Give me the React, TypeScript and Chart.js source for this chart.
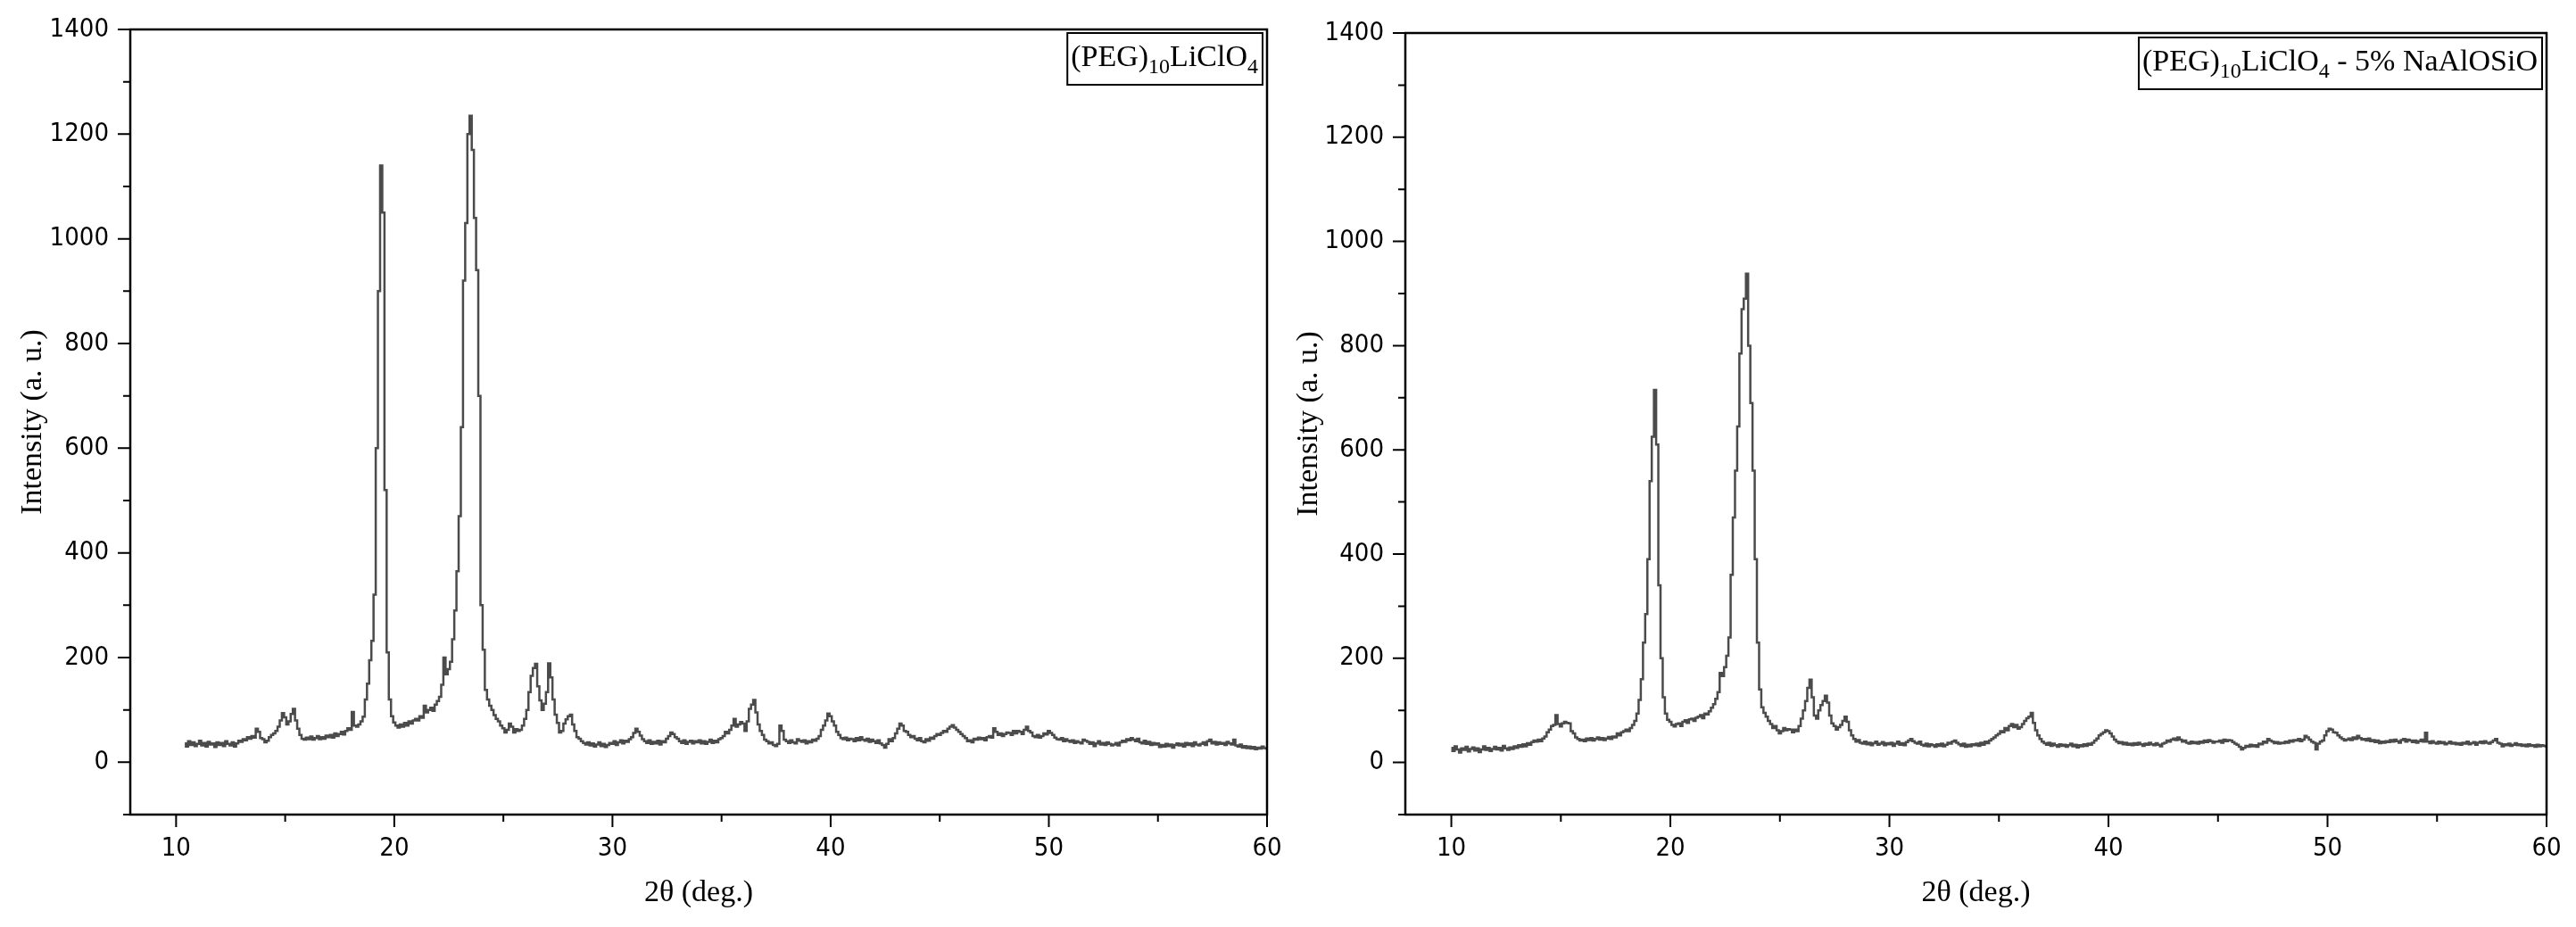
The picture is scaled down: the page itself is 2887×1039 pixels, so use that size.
import { useEffect, useRef } from "react";
import { Chart, registerables } from "chart.js";

Chart.register(...registerables);

// axes
const X_MIN = 7.9;
const X_MAX = 60;
const Y_MIN = -100;
const Y_MAX = 1400;
const X_TICKS = [10, 15, 20, 25, 30, 35, 40, 45, 50, 55, 60];
const X_LABELS = [10, 20, 30, 40, 50, 60];
const Y_TICKS = [-100, 0, 100, 200, 300, 400, 500, 600, 700, 800, 900, 1000, 1100, 1200, 1300, 1400];
const Y_LABELS = [0, 200, 400, 600, 800, 1000, 1200, 1400];

// scan grid (2θ, deg.)
const SCAN_STEP = 0.1;
const LEFT_START = 10.4;
const RIGHT_START = 10.0;

// (PEG)10LiClO4, one row per degree
const LEFT_INTENSITY = [
  36, 30, 40, 33, 38, 31,
  35, 41, 32, 37, 30, 39, 34, 36, 29, 38,
  33, 37, 31, 40, 35, 32, 38, 30, 36, 41,
  39, 44, 42, 48, 45, 50, 47, 64, 58, 46,
  44, 38, 41, 48, 52, 55, 60, 68, 80, 94,
  86, 72, 78, 92, 102, 80, 64, 52, 45, 43,
  47, 44, 49, 43, 46, 50, 44, 48, 45, 51,
  48, 52, 47, 55, 50, 54, 58, 53, 60, 65,
  62, 96, 70, 68, 72, 78, 87, 120, 150, 195,
  232, 320, 600, 900, 1140, 1050, 520, 210, 120, 88,
  76, 70, 66, 72, 68, 75, 70, 78, 74, 80,
  83, 80, 88, 85, 108, 95, 100, 104, 98, 110,
  117, 125, 148, 200, 168, 178, 192, 235, 290, 365,
  470, 640, 920, 1030, 1200, 1235, 1170, 1040, 940, 700,
  300, 215, 138, 120, 108, 100, 90, 83, 78, 70,
  65, 57, 62, 74, 68, 57, 63, 60, 62, 70,
  83, 100, 134, 165, 180, 188, 145, 118, 100, 112,
  134, 189, 162, 120, 91, 75, 57, 60, 74, 82,
  88, 91, 72, 60, 48, 45, 40, 37, 34, 38,
  32, 36, 30, 34, 38, 31, 35, 29, 33, 37,
  35, 40, 33, 38, 42, 36, 41, 39, 44, 48,
  56, 64, 58, 51, 44, 40, 37, 42, 35, 39,
  36, 41, 34, 40, 38, 45, 50, 57, 54, 48,
  45, 40, 37, 42, 35, 39, 41, 36, 40, 38,
  42, 36, 40, 35, 39, 43, 37, 41, 38, 44,
  46, 50, 58, 55, 62, 70, 83, 68, 72, 77,
  74, 60, 78, 102, 110, 119, 95, 72, 60, 52,
  43, 40, 36, 38, 33, 31, 35, 70, 60, 43,
  40, 37, 42, 38, 36, 44, 41, 39, 42, 36,
  40, 38, 43, 41, 45, 50, 62, 70, 80, 93,
  88, 78, 70, 58, 52, 46, 44, 47, 42, 45,
  44, 40, 46, 42, 48, 43, 41, 45, 39, 43,
  40, 37, 42, 36, 33, 28, 35, 44, 40, 46,
  55, 64, 74, 70, 60, 58, 52, 48, 50, 45,
  42, 46, 40, 38, 44, 41, 47, 45, 50, 54,
  52, 56, 60, 58, 64, 68, 71, 66, 62, 58,
  54, 50, 46, 40, 42, 38, 45, 43, 47, 44,
  46, 42, 48, 50, 47, 65, 58, 52, 55, 50,
  54, 57, 56, 52, 60, 55, 60, 58, 54, 62,
  68, 60, 57, 50, 48, 52, 47, 50, 55, 53,
  60, 56, 52, 47, 44, 43, 46, 40, 44, 41,
  39, 42, 37, 40, 38, 36, 43, 41, 39, 35,
  38, 31, 36, 40, 34, 37, 33, 38, 35, 32,
  34, 37, 32, 38, 41, 39, 44, 42, 46, 43,
  40, 45, 38, 36, 41, 35, 39, 33, 37, 34,
  36, 29, 33, 30, 35, 31, 34, 28, 33, 36,
  32, 35, 30, 37, 33, 36, 31, 38, 34, 32,
  35, 38, 33, 40, 43, 36, 39, 34, 38, 35,
  37, 33, 39, 36, 34, 43, 32, 30, 34, 28,
  31, 27, 30, 26, 29, 25, 28, 26, 30, 27,
  26,
];

// (PEG)10LiClO4 - 5% NaAlOSiO, one row per degree
const RIGHT_INTENSITY = [
  28, 22, 31, 25, 19, 27, 24, 30, 21, 26,
  29, 23, 27, 20, 25, 31, 24, 28, 22, 26,
  30, 25, 28, 23, 32, 27, 24, 29, 26, 31,
  28, 33, 30, 35, 31, 37, 34, 39, 42, 40,
  44, 41, 46, 50, 58, 63, 70, 72, 91, 74,
  69, 75, 78, 76, 75, 60, 56, 48, 45, 42,
  44, 41, 46, 43, 47, 42, 45, 48, 44, 47,
  43, 46, 49, 45, 50, 48, 56, 52, 58, 60,
  63, 60, 66, 72, 80, 94, 120, 160, 230, 285,
  390, 540, 625, 715, 610, 340, 200, 125, 94, 82,
  78, 72, 69, 74, 75, 70, 78, 81, 76, 83,
  84, 80, 86, 88, 91, 85, 94, 92, 98, 105,
  112, 122, 135, 172, 166, 183, 205, 240, 360, 470,
  560, 645, 785, 870, 890, 938, 800, 690, 560, 390,
  230, 140, 106, 95, 88, 80, 74, 66, 70, 62,
  56, 60, 66, 62, 64, 63, 58, 63, 60, 70,
  84, 100, 118, 143, 159, 125, 90, 84, 100, 110,
  118, 128, 115, 90, 75, 70, 63, 68, 72, 80,
  88, 78, 62, 52, 45, 40, 43, 38, 36, 40,
  35, 38, 33, 37, 40, 34, 36, 39, 33, 37,
  35, 38, 32, 36, 40, 34, 37, 33, 39, 42,
  45, 41, 38, 36, 40, 34, 32, 36, 31, 35,
  33, 30, 35, 32, 36, 31, 34, 38, 36, 40,
  42, 38, 35, 32, 36, 30, 34, 31, 35, 33,
  36, 32, 38, 34, 40, 37, 42, 45, 48, 52,
  55, 60, 58, 66, 62, 70, 74, 68, 72, 65,
  68, 74, 80, 85, 88, 95, 76, 62, 52, 45,
  40, 37, 34, 38, 32, 36, 33, 30, 35, 32,
  34, 30, 33, 36, 31, 34, 29, 33, 31, 35,
  32, 36, 34, 38, 42, 46, 52, 55, 58, 62,
  60, 56, 50, 44, 40, 37, 39, 35, 38, 34,
  36, 33, 37, 34, 38, 35, 32, 36, 34, 38,
  35, 33, 37, 34, 31, 36, 38, 42, 40, 44,
  46, 43, 48, 44, 40, 42, 38, 36, 40, 37,
  39, 36, 40, 38, 42, 39, 43, 41, 38, 40,
  40, 42, 38, 44, 41, 43, 42, 39, 36, 34,
  30, 25, 28, 32, 30, 34, 31, 33, 30, 36,
  35, 40, 38, 45, 42, 40, 37, 39, 36, 38,
  37, 40, 38, 42, 40, 43, 42, 45, 41, 44,
  51, 48, 44, 40, 38, 25, 36, 40, 42, 52,
  60, 65, 63, 58, 57, 52, 48, 45, 42, 44,
  46, 43, 48, 45, 51, 47, 44, 45, 42, 46,
  41, 43, 39, 42, 37, 40, 38, 41, 39, 43,
  40, 44, 41, 38, 43, 45, 40, 44, 42, 39,
  42, 38, 41, 44, 40, 57, 40, 37, 41, 38,
  36, 40, 37, 39, 35, 37, 40, 36, 38, 35,
  37, 34, 38, 36, 40, 35, 37, 39, 34, 38,
  40, 37, 41, 38, 36, 39, 42, 45, 38, 36,
  31, 35, 33, 36, 32, 34, 37, 33, 35, 32,
  34, 31, 35, 32, 33, 30, 34, 31, 33, 32,
  31,
];

// [text, subscript]
type Part = [string, boolean];
const LEFT_LABEL: Part[] = [["(PEG)", false], ["10", true], ["LiClO", false], ["4", true]];
const RIGHT_LABEL: Part[] = [...LEFT_LABEL, [" - 5% NaAlOSiO", false]];

const TICK_FONT = { family: "'Liberation Sans Narrow', 'DejaVu Sans Condensed', 'Arial Narrow', sans-serif", size: 29 };
const TITLE_FONT = { family: "'Liberation Serif', 'Times New Roman', serif", size: 34 };
const SERIF = "'Liberation Serif', 'Times New Roman', serif";
const LINE_COLOR = "#4b4b4b";
const MAJOR = 14;
const MINOR = 8;

interface PanelProps {
  left: number;
  width: number;
  yAxisWidth: number;
  padTop: number;
  padRight: number;
  yTitlePad: number;
  start: number;
  intensity: number[];
  label: Part[];
  boxOffset: number;
}

function Panel({ left, width, yAxisWidth, padTop, padRight, yTitlePad, start, intensity, label, boxOffset }: PanelProps) {
  const canvasRef = useRef<HTMLCanvasElement>(null);

  useEffect(() => {
    if (!canvasRef.current) return;

    const points = intensity.map((y, i) => ({ x: Math.round((start + i * SCAN_STEP) * 10) / 10, y }));

    const framePlugin = {
      id: "frame",
      afterDraw(chart: any) {
        const { ctx, chartArea: a, scales } = chart;
        ctx.save();
        ctx.strokeStyle = "#000";
        ctx.lineWidth = 2.5;
        ctx.strokeRect(a.left, a.top, a.right - a.left, a.bottom - a.top);
        ctx.lineWidth = 2;
        ctx.beginPath();
        X_TICKS.forEach((v) => {
          const px = scales.x.getPixelForValue(v);
          ctx.moveTo(px, a.bottom);
          ctx.lineTo(px, a.bottom + (X_LABELS.includes(v) ? MAJOR : MINOR));
        });
        Y_TICKS.forEach((v) => {
          const py = scales.y.getPixelForValue(v);
          ctx.moveTo(a.left, py);
          ctx.lineTo(a.left - (Y_LABELS.includes(v) ? MAJOR : MINOR), py);
        });
        ctx.stroke();

        // sample name box, top right
        const big = `34px ${SERIF}`;
        const small = `24px ${SERIF}`;
        let w = 0;
        label.forEach(([t, sub]) => {
          ctx.font = sub ? small : big;
          w += ctx.measureText(t).width;
        });
        const boxR = a.right - 5;
        const boxT = a.top + boxOffset;
        const boxW = w + 9;
        ctx.fillStyle = "#fff";
        ctx.fillRect(boxR - boxW, boxT, boxW, 58);
        ctx.lineWidth = 2;
        ctx.strokeRect(boxR - boxW, boxT, boxW, 58);
        ctx.fillStyle = "#000";
        ctx.textBaseline = "alphabetic";
        ctx.textAlign = "left";
        let x = boxR - boxW + 4;
        label.forEach(([t, sub]) => {
          ctx.font = sub ? small : big;
          ctx.fillText(t, x, boxT + (sub ? 45 : 37));
          x += ctx.measureText(t).width;
        });
        ctx.restore();
      },
    };

    const chart = new Chart(canvasRef.current, {
      type: "line",
      data: {
        datasets: [
          {
            data: points,
            borderColor: LINE_COLOR,
            borderWidth: 2.5,
            pointRadius: 0,
            stepped: "middle",
            fill: false,
          },
        ],
      },
      options: {
        animation: false,
        responsive: false,
        layout: { padding: { left: 0, right: padRight, top: padTop, bottom: 0 } },
        plugins: { legend: { display: false }, tooltip: { enabled: false } },
        scales: {
          x: {
            type: "linear",
            min: X_MIN,
            max: X_MAX,
            afterBuildTicks: (s: any) => {
              s.ticks = X_TICKS.map((value) => ({ value }));
            },
            afterFit: (s: any) => {
              s.height = 126;
            },
            border: { display: false },
            grid: { drawOnChartArea: false, drawTicks: true, tickLength: MAJOR, tickColor: "rgba(0,0,0,0)" },
            ticks: {
              autoSkip: false,
              maxRotation: 0,
              padding: 7,
              color: "#000",
              font: TICK_FONT,
              callback: (v: any) => (X_LABELS.includes(Number(v)) ? String(v) : ""),
            },
            title: {
              display: true,
              text: "2θ (deg.)",
              color: "#000",
              font: TITLE_FONT,
              padding: { top: 0, bottom: 18 },
            },
          },
          y: {
            type: "linear",
            min: Y_MIN,
            max: Y_MAX,
            afterBuildTicks: (s: any) => {
              s.ticks = Y_TICKS.map((value) => ({ value }));
            },
            afterFit: (s: any) => {
              s.width = yAxisWidth;
            },
            border: { display: false },
            grid: { drawOnChartArea: false, drawTicks: true, tickLength: MAJOR, tickColor: "rgba(0,0,0,0)" },
            ticks: {
              autoSkip: false,
              padding: 10,
              color: "#000",
              font: TICK_FONT,
              callback: (v: any) => (Y_LABELS.includes(Number(v)) ? String(v) : ""),
            },
            title: {
              display: true,
              text: "Intensity (a. u.)",
              color: "#000",
              font: TITLE_FONT,
              padding: { top: yTitlePad, bottom: 0 },
            },
          },
        },
      },
      plugins: [framePlugin],
    } as any);

    return () => chart.destroy();
  }, [start, intensity, label, yAxisWidth, padTop, padRight, yTitlePad, boxOffset]);

  return (
    <canvas
      ref={canvasRef}
      width={width}
      height={1039}
      style={{ position: "absolute", left, top: 0, width, height: 1039 }}
    />
  );
}

export default function App() {
  return (
    <div style={{ position: "absolute", left: 0, top: 0, width: 2887, height: 1039, background: "#fff", overflow: "hidden" }}>
      <Panel
        left={0}
        width={1450}
        yAxisWidth={146}
        padTop={33}
        padRight={30}
        yTitlePad={17}
        start={LEFT_START}
        intensity={LEFT_INTENSITY}
        label={LEFT_LABEL}
        boxOffset={4}
      />
      <Panel
        left={1440}
        width={1447}
        yAxisWidth={135}
        padTop={37}
        padRight={33}
        yTitlePad={7}
        start={RIGHT_START}
        intensity={RIGHT_INTENSITY}
        label={RIGHT_LABEL}
        boxOffset={5}
      />
    </div>
  );
}
